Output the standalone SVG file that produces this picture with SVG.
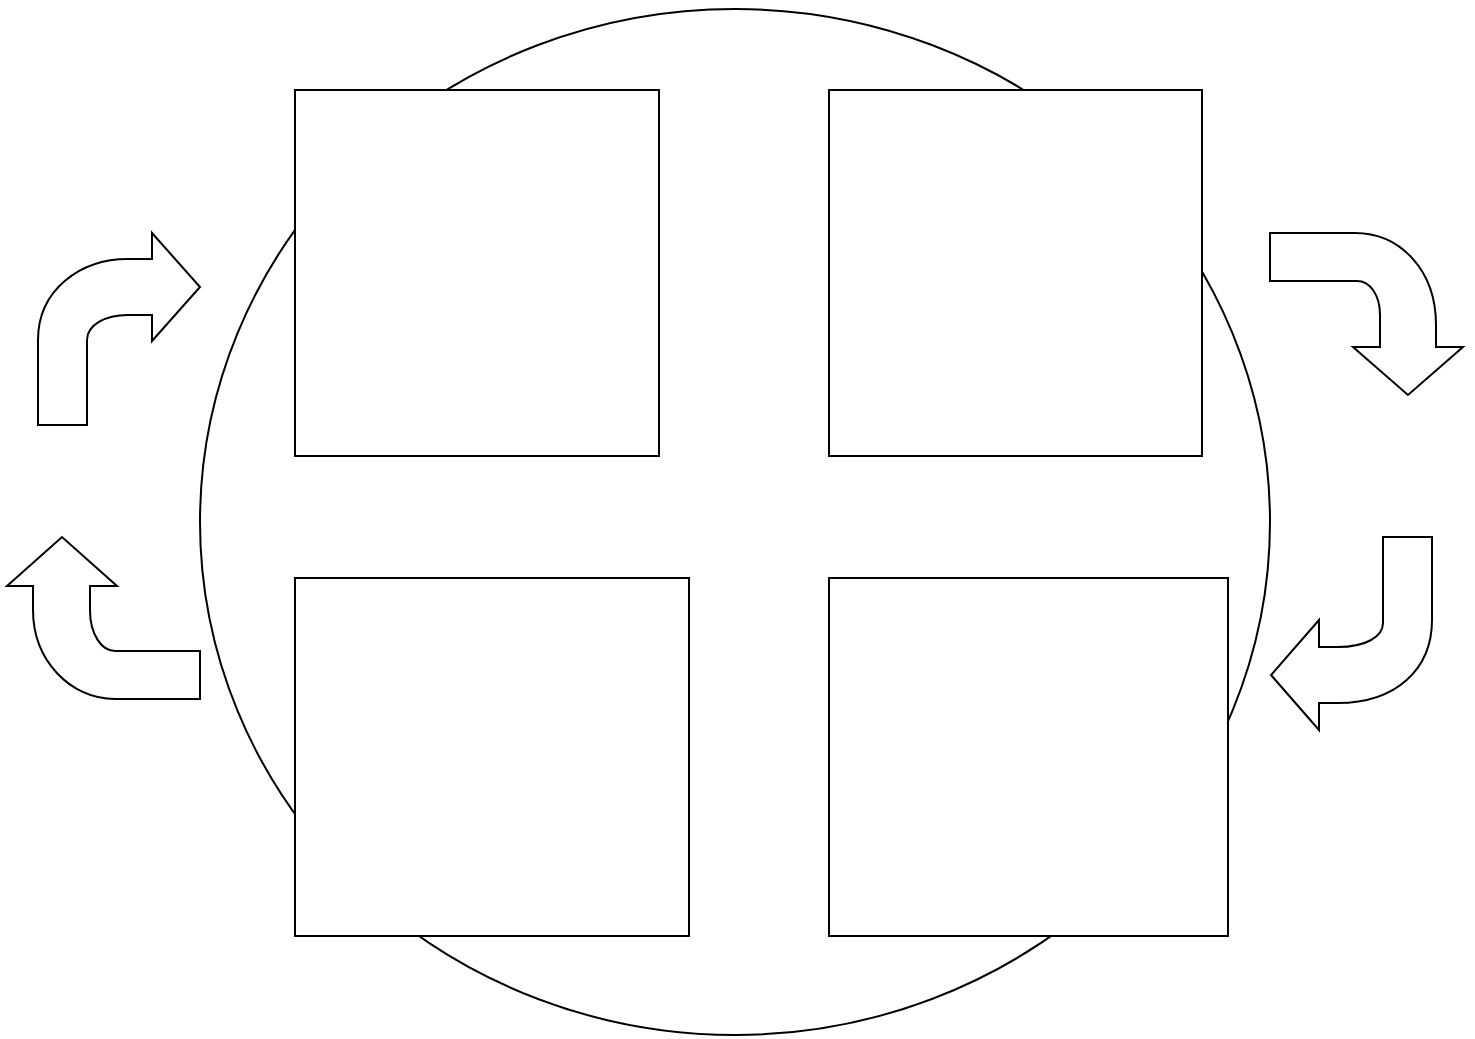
<svg xmlns="http://www.w3.org/2000/svg" width="1475" height="1039" viewBox="0 0 1475 1039">
<style>
.s{fill:#fff;stroke:#000;stroke-width:2;stroke-linejoin:miter}
</style>
<rect width="1475" height="1039" fill="#fff"/>
<g id="circle"><ellipse class="s" cx="735" cy="522" rx="535" ry="513"/></g>
<g id="box-tl"><rect class="s" x="295" y="90" width="364" height="366"/></g>
<g id="box-tr"><rect class="s" x="829" y="90" width="373" height="366"/></g>
<g id="box-bl"><rect class="s" x="295" y="578" width="394" height="358"/></g>
<g id="box-br"><rect class="s" x="829" y="578" width="399" height="358"/></g>
<g id="connectors">
<path class="s" d="M38,425 L38,340 C38,290 80,259 128,259 L152,259 L152,233 L200,287 L152,341 L152,315 L128,315 C105,315 87,325 87,340 L87,425 Z"/>
<path class="s" d="M1270,233 L1355,233 C1400,233 1436,270 1436,325 L1436,347 L1463,347 L1408,395 L1353,347 L1380,347 L1380,315 C1380,295 1370,281 1357,281 L1270,281 Z"/>
<path class="s" d="M200,699 L115,699 C70,699 33,660 33,610 L33,586 L7,586 L62,537 L117,586 L90,586 L90,610 C90,635 102,651 115,651 L200,651 Z"/>
<path class="s" d="M1383,537 L1432,537 L1432,620 C1432,670 1395,703 1338,703 L1319,703 L1319,730 L1271,675 L1319,620 L1319,647 L1338,647 C1365,647 1383,637 1383,623 Z"/>
</g>
</svg>
